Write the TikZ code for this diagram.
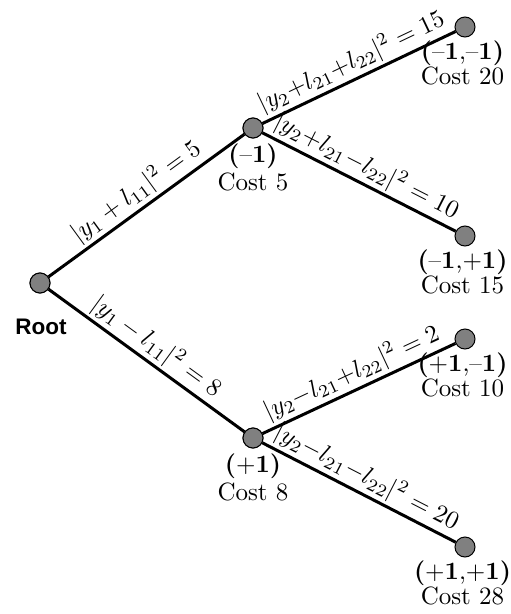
\documentclass[tikz,border=0pt]{standalone}
\usepackage{amsmath}
\usepackage{fontspec}
\newfontfamily\rootfont{Liberation Sans}
\usetikzlibrary{positioning}
\definecolor{nodegray}{RGB}{128,128,128}

\begin{document}
\begin{tikzpicture}[x=0.4pt, y=-0.4pt,
  dot/.style={circle, draw=black, fill=nodegray, minimum size=8pt, inner sep=0pt, line width=0.4pt},
  branch/.style={line width=1.2pt},
  metric/.style={midway, above, sloped, inner sep=1pt},
  cost/.style={align=center, inner sep=1pt}]
  \useasboundingbox (0,0) rectangle (511,614);
  \node[dot] (root) at (40,283) {};
  \node[dot] (m) at (253,128) {};
  \node[dot] (p) at (253,438) {};
  \node[dot] (mm) at (465,27) {};
  \node[dot] (mp) at (465,236) {};
  \node[dot] (pm) at (465,339) {};
  \node[dot] (pp) at (465,547) {};
  \draw[branch] (root) -- node[metric] (lm) {$|y_1 + l_{11}|^2 = 5$} (m);
  \draw[branch] (root) -- node[metric] (lp) {$|y_1 - l_{11}|^2 = 8$} (p);
  \draw[branch] (m) -- node[metric] (lmm) {$|y_2{+}l_{21}{+}l_{22}|^2 = 15$} (mm);
  \draw[branch] (m) -- node[metric] (lmp) {$|y_2{+}l_{21}{-}l_{22}|^2 = 10$} (mp);
  \draw[branch] (p) -- node[metric] (lpm) {$|y_2{-}l_{21}{+}l_{22}|^2 = 2$} (pm);
  \draw[branch] (p) -- node[metric] (lpp) {$|y_2{-}l_{21}{-}l_{22}|^2 = 20$} (pp);
  \node[dot] at (root) {};
  \node[dot] at (m) {};
  \node[dot] at (p) {};
  \node[font=\rootfont\bfseries\fontsize{9}{11}\selectfont] (rootlbl) at (41,327) {Root};
  \node[cost, below=1pt of m] (cm) {\textbf{(}--\textbf{1)}\\[-1pt]Cost 5};
  \node[cost, below=1pt of p] (cp) {\textbf{(}+\textbf{1)}\\[-1pt]Cost 8};
  \node[cost, below=0pt of mm, xshift=-1pt] (cmm) {\textbf{(}--\textbf{1},--\textbf{1)}\\[-2pt]Cost 20};
  \node[cost, below=0pt of mp, xshift=-1pt] (cmp) {\textbf{(}--\textbf{1},+\textbf{1)}\\[-2pt]Cost 15};
  \node[cost, below=0pt of pm, xshift=-1pt] (cpm) {\textbf{(}+\textbf{1},--\textbf{1)}\\[-2pt]Cost 10};
  \node[cost, below=0pt of pp, xshift=-1pt] (cpp) {\textbf{(}+\textbf{1},+\textbf{1)}\\[-2pt]Cost 28};
\end{tikzpicture}
\end{document}
